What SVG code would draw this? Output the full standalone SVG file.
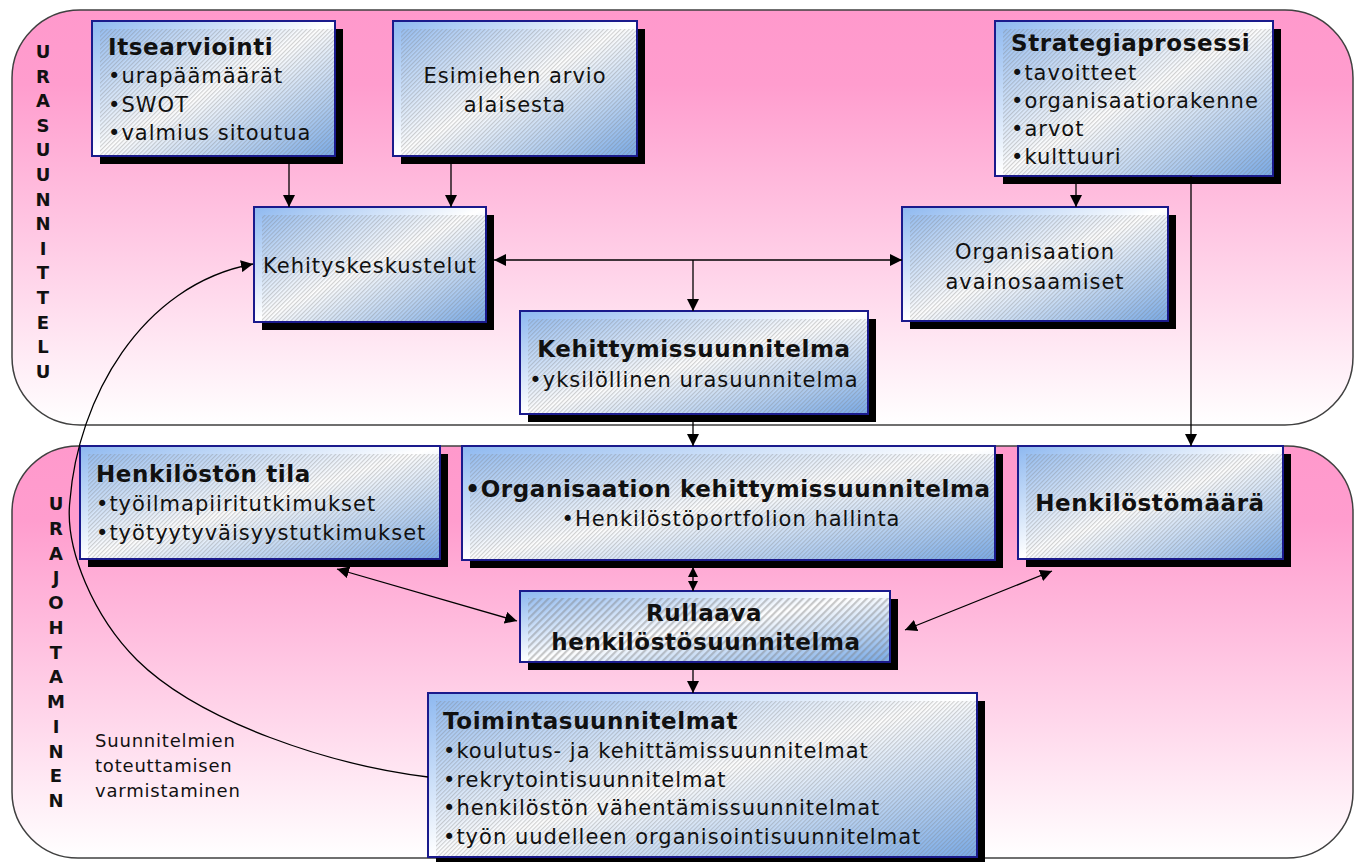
<svg xmlns="http://www.w3.org/2000/svg" width="1359" height="862" viewBox="0 0 1359 862">
<defs>
<linearGradient id="panelGrad" x1="0" y1="0" x2="0" y2="1">
<stop offset="0" stop-color="#FF99CC"/>
<stop offset="0.18" stop-color="#FF9DCE"/>
<stop offset="1" stop-color="#FFFFFF"/>
</linearGradient>
<linearGradient id="nodeGrad" x1="0" y1="0" x2="1" y2="1">
<stop offset="0" stop-color="#8DB8F0"/>
<stop offset="0.5" stop-color="#FFFFFF"/>
<stop offset="1" stop-color="#78AAE8"/>
</linearGradient>
<pattern id="hatch" width="3" height="3" patternUnits="userSpaceOnUse" patternTransform="rotate(45)">
<rect width="1.2" height="3" fill="#7a7a7a" opacity="0.35"/>
</pattern>
<pattern id="hatch2" width="5" height="5" patternUnits="userSpaceOnUse" patternTransform="rotate(45)">
<rect width="2.2" height="5" fill="#7a7a7a" opacity="0.4"/>
</pattern>
<marker id="arr" viewBox="0 0 12 12" refX="12" refY="6" markerWidth="12" markerHeight="12" markerUnits="userSpaceOnUse" orient="auto-start-reverse">
<path d="M0,0 L12,6 L0,12 z" fill="#000"/>
</marker>
<marker id="arrs" viewBox="0 0 12 12" refX="12" refY="6" markerWidth="10" markerHeight="11" markerUnits="userSpaceOnUse" orient="auto-start-reverse">
<path d="M0,0 L12,6 L0,12 z" fill="#000"/>
</marker>
</defs>
<style>
.panel{fill:url(#panelGrad);stroke:#404040;stroke-width:1.5}
.box{fill:url(#nodeGrad);stroke:#1a1a8c;stroke-width:2}
.shadow{fill:#000}
.hatch{fill:url(#hatch)}
.hatch2{fill:url(#hatch2)}
text{font-family:"DejaVu Sans",Verdana,sans-serif;fill:#111}
.t{font-size:21px;letter-spacing:1px}
.b{font-size:23px;font-weight:bold;letter-spacing:0.6px}
.v{font-size:18px;font-weight:bold;text-anchor:middle}
.s{font-size:18px;letter-spacing:0.8px}
.c{text-anchor:middle}
.conn{stroke:#000;stroke-width:1.3;fill:none}
</style>

<g id="panels">
<rect class="panel" x="12" y="10" width="1341" height="415" rx="68" ry="68"/>
<rect class="panel" x="12" y="446" width="1341" height="412" rx="66" ry="66"/>
</g>

<g id="label-urasuunnittelu">
<text class="v"><tspan x="43" y="58">U</tspan><tspan x="43" y="82.6">R</tspan><tspan x="43" y="107.2">A</tspan><tspan x="43" y="131.8">S</tspan><tspan x="43" y="156.4">U</tspan><tspan x="43" y="181">U</tspan><tspan x="43" y="205.6">N</tspan><tspan x="43" y="230.2">N</tspan><tspan x="43" y="254.8">I</tspan><tspan x="43" y="279.4">T</tspan><tspan x="43" y="304">T</tspan><tspan x="43" y="328.6">E</tspan><tspan x="43" y="353.2">L</tspan><tspan x="43" y="377.8">U</tspan></text>
</g>
<g id="label-urajohtaminen">
<text class="v"><tspan x="56" y="510">U</tspan><tspan x="56" y="534.75">R</tspan><tspan x="56" y="559.5">A</tspan><tspan x="56" y="584.25">J</tspan><tspan x="56" y="609">O</tspan><tspan x="56" y="633.75">H</tspan><tspan x="56" y="658.5">T</tspan><tspan x="56" y="683.25">A</tspan><tspan x="56" y="708">M</tspan><tspan x="56" y="732.75">I</tspan><tspan x="56" y="757.5">N</tspan><tspan x="56" y="782.25">E</tspan><tspan x="56" y="807">N</tspan></text>
</g>
<g id="label-varmistaminen">
<text class="s"><tspan x="95" y="747">Suunnitelmien</tspan><tspan x="95" y="772">toteuttamisen</tspan><tspan x="95" y="797">varmistaminen</tspan></text>
</g>

<g id="itsearviointi">
<rect class="shadow" x="100" y="29" width="243" height="135"/>
<rect class="box" x="92" y="21" width="243" height="135"/>
<rect class="hatch" x="100" y="29" width="234" height="126"/>
<text class="b" x="108" y="55">Itsearviointi</text>
<text class="t" x="108" y="83">•urapäämäärät</text>
<text class="t" x="108" y="112">•SWOT</text>
<text class="t" x="108" y="140">•valmius sitoutua</text>
</g>

<g id="esimiehen-arvio">
<rect class="shadow" x="401" y="29" width="244" height="135"/>
<rect class="box" x="393" y="21" width="244" height="135"/>
<rect class="hatch" x="401" y="29" width="235" height="126"/>
<text class="t c" x="515" y="83">Esimiehen arvio</text>
<text class="t c" x="515" y="112">alaisesta</text>
</g>

<g id="strategiaprosessi">
<rect class="shadow" x="1003" y="29" width="278" height="155"/>
<rect class="box" x="995" y="21" width="278" height="155"/>
<rect class="hatch" x="1003" y="29" width="269" height="146"/>
<text class="b" x="1011" y="51">Strategiaprosessi</text>
<text class="t" x="1011" y="80">•tavoitteet</text>
<text class="t" x="1011" y="108">•organisaatiorakenne</text>
<text class="t" x="1011" y="136">•arvot</text>
<text class="t" x="1011" y="164">•kulttuuri</text>
</g>

<g id="kehityskeskustelut">
<rect class="shadow" x="262" y="215" width="232" height="115"/>
<rect class="box" x="254" y="207" width="232" height="115"/>
<rect class="hatch" x="262" y="215" width="223" height="106"/>
<text class="t c" x="370" y="273">Kehityskeskustelut</text>
</g>

<g id="organisaation-avainosaamiset">
<rect class="shadow" x="910" y="215" width="266" height="114"/>
<rect class="box" x="902" y="207" width="266" height="114"/>
<rect class="hatch" x="910" y="215" width="257" height="105"/>
<text class="t c" x="1035" y="259">Organisaation</text>
<text class="t c" x="1035" y="289">avainosaamiset</text>
</g>

<g id="kehittymissuunnitelma">
<rect class="shadow" x="528" y="319" width="348" height="103"/>
<rect class="box" x="520" y="311" width="348" height="103"/>
<rect class="hatch" x="528" y="319" width="339" height="94"/>
<text class="b c" x="694" y="357">Kehittymissuunnitelma</text>
<text class="t c" x="694" y="387">•yksilöllinen urasuunnitelma</text>
</g>

<g id="henkiloston-tila">
<rect class="shadow" x="88" y="454" width="360" height="113"/>
<rect class="box" x="80" y="446" width="360" height="113"/>
<rect class="hatch" x="88" y="454" width="351" height="104"/>
<text class="b" x="96" y="482">Henkilöstön tila</text>
<text class="t" x="96" y="511">•työilmapiiritutkimukset</text>
<text class="t" x="96" y="540">•työtyytyväisyystutkimukset</text>
</g>

<g id="organisaation-kehittymissuunnitelma">
<rect class="shadow" x="470" y="454" width="533" height="114"/>
<rect class="box" x="462" y="446" width="533" height="114"/>
<rect class="hatch" x="470" y="454" width="524" height="105"/>
<text class="b c" x="728" y="497">•Organisaation kehittymissuunnitelma</text>
<text class="t c" x="731" y="526">•Henkilöstöportfolion hallinta</text>
</g>

<g id="henkilostomaara">
<rect class="shadow" x="1026" y="454" width="265" height="113"/>
<rect class="box" x="1018" y="446" width="265" height="113"/>
<rect class="hatch" x="1026" y="454" width="256" height="104"/>
<text class="b c" x="1150" y="511">Henkilöstömäärä</text>
</g>

<g id="rullaava-henkilostosuunnitelma">
<rect class="shadow" x="528" y="599" width="370" height="71"/>
<rect class="box" x="520" y="591" width="370" height="71"/>
<rect class="hatch2" x="528" y="598" width="361" height="63"/>
<text class="b c" x="704" y="621">Rullaava</text>
<text class="b c" x="706" y="650">henkilöstösuunnitelma</text>
</g>

<g id="toimintasuunnitelmat">
<rect class="shadow" x="436" y="701" width="549" height="164"/>
<rect class="box" x="428" y="693" width="549" height="164"/>
<rect class="hatch" x="436" y="701" width="540" height="155"/>
<text class="b" x="443" y="729">Toimintasuunnitelmat</text>
<text class="t" x="443" y="758">•koulutus- ja kehittämissuunnitelmat</text>
<text class="t" x="443" y="787">•rekrytointisuunnitelmat</text>
<text class="t" x="443" y="815">•henkilöstön vähentämissuunnitelmat</text>
<text class="t" x="443" y="844">•työn uudelleen organisointisuunnitelmat</text>
</g>

<g id="connectors">
<path class="conn" d="M289,164 V207" marker-end="url(#arr)"/>
<path class="conn" d="M451,164 V207" marker-end="url(#arr)"/>
<path class="conn" d="M1076,184 V207" marker-end="url(#arr)"/>
<path class="conn" d="M1191,176 V446" marker-end="url(#arr)"/>
<path class="conn" d="M494,260 H902" marker-start="url(#arr)" marker-end="url(#arr)"/>
<path class="conn" d="M693,260 V311" marker-end="url(#arr)"/>
<path class="conn" d="M693,422 V446" marker-end="url(#arr)"/>
<path class="conn" d="M693,567 V591" marker-start="url(#arrs)" marker-end="url(#arrs)"/>
<path class="conn" d="M337,569 L517,621" marker-start="url(#arr)" marker-end="url(#arr)"/>
<path class="conn" d="M1052,571 L905,630" marker-start="url(#arr)" marker-end="url(#arr)"/>
<path class="conn" d="M693,670 V693" marker-end="url(#arr)"/>
<path class="conn" d="M428,777 C330,765 200,722 137,660 C95,618 64,550 70,500 C78,400 140,285 253,264" marker-end="url(#arr)"/>
</g>
</svg>
